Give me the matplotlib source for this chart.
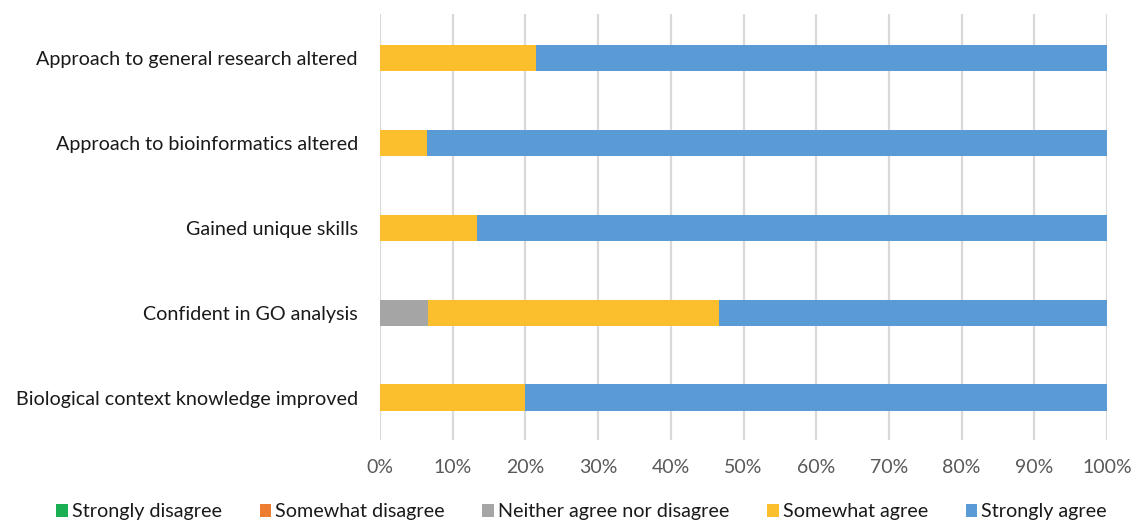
import numpy as np
import matplotlib
matplotlib.use('Agg')
import matplotlib.pyplot as plt
from matplotlib.ticker import PercentFormatter

plt.rcParams['font.family'] = ['Lato', 'DejaVu Sans']

# categories, bottom to top
categories = ['Biological context knowledge improved',
              'Confident in GO analysis',
              'Gained unique skills',
              'Approach to bioinformatics altered',
              'Approach to general research altered']

series = ['Strongly disagree', 'Somewhat disagree', 'Neither agree nor disagree',
          'Somewhat agree', 'Strongly agree']

# percentages per category (same order as categories)
strongly_disagree = [0, 0, 0, 0, 0]
somewhat_disagree = [0, 0, 0, 0, 0]
neither = [0, 6.67, 0, 0, 0]
somewhat_agree = [20.0, 40.0, 13.33, 6.5, 21.4]
strongly_agree = [80.0, 53.33, 86.67, 93.5, 78.6]

colors = ['#1BAF54', '#ED7D31', '#A5A5A5', '#FBBF2E', '#5B9BD5']

fig = plt.figure(figsize=(11.36, 5.22), dpi=100)
ax = fig.add_axes([380/1136, 1-440/522, 727/1136, (440-14)/522])

y = np.arange(len(categories))
left = np.zeros(len(categories))
for name, vals, c in zip(series, [strongly_disagree, somewhat_disagree, neither,
                                  somewhat_agree, strongly_agree], colors):
    vals = np.asarray(vals, dtype=float)
    ax.barh(y, vals, left=left, height=0.31, color=c, label=name, zorder=3)
    left += vals

ax.set_xlim(0, 100)
ax.set_ylim(-0.5, 4.52)
ax.set_xticks(np.arange(0, 101, 10))
ax.xaxis.set_major_formatter(PercentFormatter(decimals=0))
ax.set_yticks(y)
ax.set_yticklabels(categories, fontsize=14.2, color='#1a1a1a')
ax.tick_params(axis='x', labelsize=14, colors='#595959', length=0, pad=14)
ax.tick_params(axis='y', length=0, pad=16)
ax.grid(axis='x', color='#D9D9D9', linewidth=1.6, zorder=0)
for s in ax.spines.values():
    s.set_visible(False)

fig.legend(loc='center', bbox_to_anchor=(0.512, 1-512/522), ncol=5, frameon=False,
           fontsize=14.2, handlelength=0.6, handleheight=0.6, handletextpad=0.2,
           columnspacing=1.9, labelcolor='#1a1a1a', borderaxespad=0, borderpad=0)

fig.savefig('out.png', dpi=100)
